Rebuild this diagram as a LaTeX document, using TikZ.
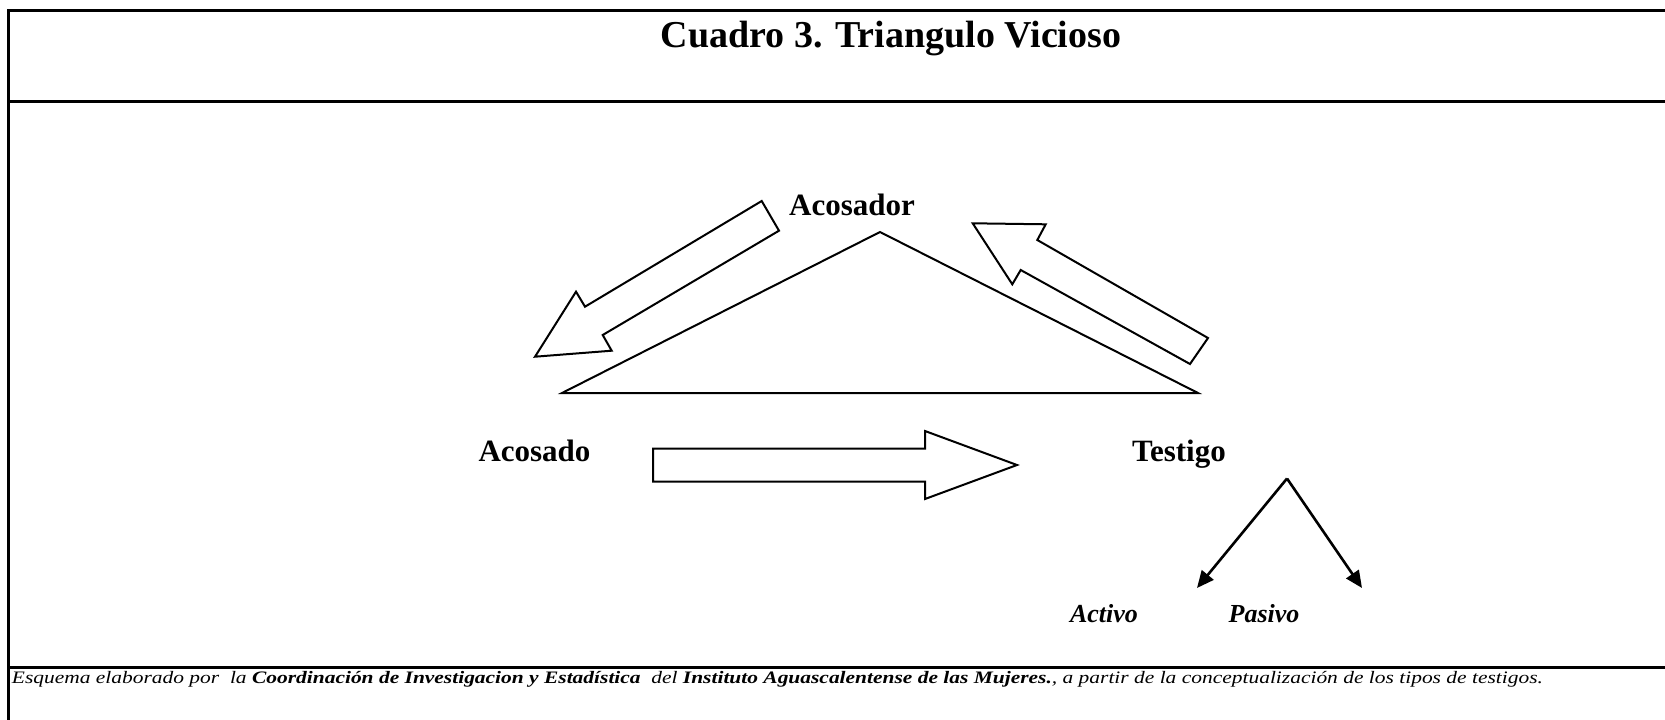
\documentclass[tikz,border=0pt]{standalone}
\usepackage{fontspec}
\setmainfont{Liberation Serif}
\usetikzlibrary{arrows.meta}
\begin{document}
\begin{tikzpicture}[x=1pt,y=-1pt,
  frame/.style={line width=3pt},
  blockshape/.style={line width=2pt, line join=miter},
  lbl/.style={font=\fontsize{31}{36}\selectfont\bfseries, anchor=base, inner sep=0pt},
  sublbl/.style={font=\fontsize{26}{30}\selectfont\bfseries\itshape, anchor=base, inner sep=0pt},
  splitarrow/.style={line width=2.6pt, -{Triangle[length=17pt,width=15pt]}}]
\useasboundingbox (0,0) rectangle (1665,720);
% frame
\draw[frame] (1665,10) -- (8,10) -- (8,720);
\draw[frame] (8,101) -- (1665,101);
\draw[frame] (8,667.5) -- (1665,667.5);
% title
\node[font=\fontsize{38}{44}\selectfont\bfseries, anchor=base, inner sep=0pt] (title) at (891,47) {Cuadro 3. Triangulo Vicioso};
% triangle
\coordinate (apex) at (880,232);
\coordinate (baseR) at (1198,393);
\coordinate (baseL) at (562,393);
\draw[blockshape] (apex) -- (baseR) -- (baseL) -- cycle;
% block arrow: Acosador -> Acosado
\draw[blockshape] (761.7,201) -- (779,230.7) -- (602.7,335) -- (611.7,350.7) -- (535,356.7) -- (576,291.7) -- (585,306.7) -- cycle;
% block arrow: Testigo -> Acosador
\draw[blockshape] (1208,338) -- (1190,364) -- (1020.7,270) -- (1012.3,284.3) -- (972.7,223.3) -- (1045.7,224.3) -- (1037.3,240) -- cycle;
% block arrow: Acosado -> Testigo
\draw[blockshape] (653,448.5) -- (925,448.5) -- (925,431) -- (1017,465) -- (925,499) -- (925,481.5) -- (653,481.5) -- cycle;
% labels
\node[lbl] (acosador) at (852,215) {Acosador};
\node[lbl] (acosado) at (534.5,461) {Acosado};
\node[lbl] (testigo) at (1179,461.5) {Testigo};
\node[sublbl] (activo) at (1104,622) {Activo};
\node[sublbl] (pasivo) at (1264,622) {Pasivo};
% split arrows
\coordinate (split) at (1287,478.5);
\coordinate (tipA) at (1197,588);
\coordinate (tipP) at (1362,588);
\draw[splitarrow] (split) -- (tipA);
\draw[splitarrow] (split) -- (tipP);
% footer
\node[anchor=base west, inner sep=0pt, font=\fontsize{17.5}{20}\selectfont\itshape] (footer) at (11.7,683)
 {\resizebox{1531pt}{\height}{Esquema elaborado por\ \ la \textbf{Coordinación de Investigacion y Estadística}\ \ del \textbf{Instituto Aguascalentense de las Mujeres.}, a partir de la conceptualización de los tipos de testigos.}};
\end{tikzpicture}
\end{document}
